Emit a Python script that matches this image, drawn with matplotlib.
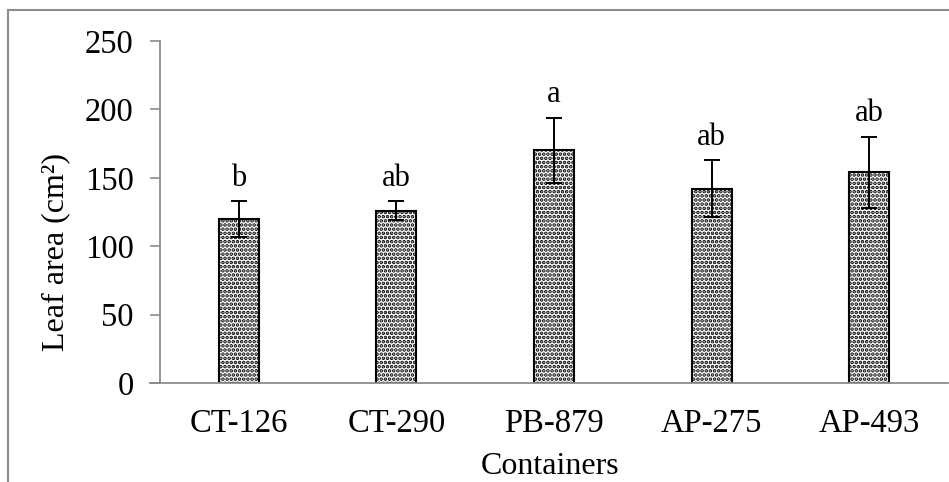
import matplotlib
matplotlib.use('Agg')
import matplotlib.pyplot as plt
from matplotlib.lines import Line2D

# data
containers = ['CT-126', 'CT-290', 'PB-879', 'AP-275', 'AP-493']
leaf_area = [120, 126, 170, 142, 154]
leaf_err = [13, 7, 24, 21, 26]
letters = ['b', 'ab', 'a', 'ab', 'ab']

plt.rcParams['font.family'] = ['Liberation Serif', 'DejaVu Serif']
plt.rcParams['hatch.linewidth'] = 1.8
plt.rcParams['hatch.color'] = 'black'

GRAY = '#8c8c8c'

fig = plt.figure(figsize=(9.49, 4.82), dpi=100)
ax = fig.add_axes([160 / 949, 1 - 383 / 482, 788 / 949, 342 / 482])

x = list(range(len(containers)))
ax.bar(x, leaf_area, width=0.254, color='white', edgecolor='black',
       linewidth=1.5, hatch='....', zorder=2)
ax.errorbar(x, leaf_area, yerr=leaf_err, fmt='none', ecolor='black',
            elinewidth=1.4, capsize=6, capthick=1.4, zorder=3)

for xi, m, e, lab in zip(x, leaf_area, leaf_err, letters):
    ax.annotate(lab, (xi, m + e), xytext=(0, 11), textcoords='offset points',
                ha='center', va='baseline', fontsize=22)

ax.set_xlim(-0.5, 4.5)
ax.set_ylim(0, 250)
ax.set_yticks([0, 50, 100, 150, 200, 250])
ax.set_xticks(x)
ax.set_xticklabels(containers)
ax.tick_params(axis='y', labelsize=23.5, length=7, width=1.2, color=GRAY, pad=12)
ax.tick_params(axis='x', labelsize=23.5, length=0, pad=18)

for side in ['top', 'right']:
    ax.spines[side].set_visible(False)
for side in ['left', 'bottom']:
    ax.spines[side].set_color(GRAY)
    ax.spines[side].set_linewidth(1.3)
# x axis line runs a little left of the y axis
ax.spines['bottom'].set_bounds(-0.5 - 10 / 157.5, 4.5)

fig.text(56 / 949, 1 - 252 / 482, 'Leaf area (cm²)', rotation=90,
         ha='center', va='center', fontsize=23)
fig.text(550 / 949, 1 - 466 / 482, 'Containers', ha='center', va='center',
         fontsize=23)

# outer chart border (cut off on the right and bottom)
fig.add_artist(Line2D([8 / 949, 8 / 949], [0, 1 - 10 / 482],
                      transform=fig.transFigure, color=GRAY, lw=1.5))
fig.add_artist(Line2D([8 / 949, 1], [1 - 10 / 482, 1 - 10 / 482],
                      transform=fig.transFigure, color=GRAY, lw=1.5))

plt.savefig('out.png', dpi=100)
